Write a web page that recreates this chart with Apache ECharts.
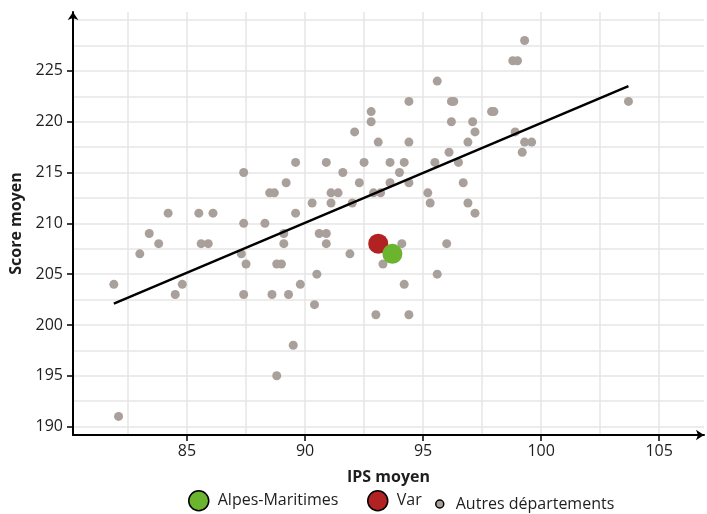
<!DOCTYPE html>
<html>
<head>
<meta charset="utf-8">
<script src="https://cdn.jsdelivr.net/npm/echarts@6/dist/echarts.min.js"></script>
<style>
  html, body { margin: 0; padding: 0; background: #fff; }
  #chart { width: 707px; height: 514px; }
</style>
</head>
<body>
<div id="chart"></div>
<script>
// autres départements : IPS moyen / score moyen
const otherIps = [
  81.9, 82.1, 83.0, 83.4, 83.8, 84.2, 84.5, 84.8, 85.5, 85.6, 85.9, 86.1,
  87.4, 87.4, 87.3, 87.5, 87.4, 88.3, 88.5, 88.7, 88.6, 88.8, 89.0, 88.8,
  89.1, 89.1, 89.2, 89.3, 89.5, 89.6, 89.6, 89.8, 90.3, 90.9, 91.1, 91.1,
  91.4, 91.6, 92.0, 92.1, 92.3, 92.5, 92.8, 92.8, 93.1, 92.9, 93.2, 93.6,
  93.6, 99.3, 98.8, 99.0, 95.6, 94.4, 96.2, 96.3, 103.7, 97.9, 98.0, 96.2,
  97.1, 97.2, 98.9, 94.4, 96.9, 99.3, 99.6, 99.2, 96.1, 94.2, 95.5, 96.5,
  94.0, 94.4, 96.7, 95.2, 95.3, 96.9, 97.2, 90.6, 90.9, 90.9, 91.9, 93.3,
  90.5, 90.4, 93.0, 94.1, 96.0, 95.6, 94.2, 94.4
];
const otherScore = [
  204, 191, 207, 209, 208, 211, 203, 204, 211, 208, 208, 211,
  215, 210, 207, 206, 203, 210, 213, 213, 203, 206, 206, 195,
  209, 208, 214, 203, 198, 211, 216, 204, 212, 216, 212, 213,
  213, 215, 212, 219, 214, 216, 221, 220, 218, 213, 213, 216,
  214, 228, 226, 226, 224, 222, 222, 222, 222, 221, 221, 220,
  220, 219, 219, 218, 218, 218, 218, 217, 217, 216, 216, 216,
  215, 214, 214, 213, 212, 212, 211, 209, 209, 208, 207, 206,
  205, 202, 201, 208, 208, 205, 204, 201
];
const alpesMaritimes = [93.7, 207];
const varDept = [93.1, 208];
// droite de tendance (début / fin)
const trendIps = [81.9, 103.7];
const trendScore = [202.1, 223.5];

const xLabels = [85, 90, 95, 100, 105];
const xGrid = [82.5, 85, 87.5, 90, 92.5, 95, 97.5, 100, 102.5, 105];
const yLabels = [190, 195, 200, 205, 210, 215, 220, 225];
const yGrid = [190, 192.5, 195, 197.5, 200, 202.5, 205, 207.5, 210, 212.5, 215, 217.5, 220, 222.5, 225, 227.5, 230];

const FONT = "Open Sans";
const xMin = 80.17, xMax = 106.9, yMin = 189.17, yMax = 230.8;

const chart = echarts.init(document.getElementById("chart"));

const legendBase = {
  orient: "horizontal",
  padding: 0,
  selectedMode: false,
  textStyle: { fontFamily: FONT, fontSize: 16, color: "#1e1e1e" },
  itemStyle: { borderColor: "#000", borderWidth: 1.5 }
};

chart.setOption({
  animation: false,
  textStyle: { fontFamily: FONT },
  grid: { left: 73, right: 3, top: 12, bottom: 79, containLabel: false },
  legend: [
    Object.assign({}, legendBase, { data: [{ name: "Alpes-Maritimes", icon: "circle" }], left: 188, top: 490, itemWidth: 28, itemHeight: 20 }),
    Object.assign({}, legendBase, { data: [{ name: "Var", icon: "circle" }], left: 367, top: 490, itemWidth: 28, itemHeight: 20 }),
    Object.assign({}, legendBase, { data: [{ name: "Autres départements", icon: "circle" }], left: 435, top: 496, itemWidth: 22, itemHeight: 8 })
  ],
  xAxis: [
    {
      type: "value", min: xMin, max: xMax,
      name: "IPS moyen", nameLocation: "middle", nameGap: 34,
      nameTextStyle: { fontFamily: FONT, fontSize: 16, fontWeight: "bold", color: "#1e1e1e" },
      axisLine: { show: true, lineStyle: { color: "#000", width: 2 }, symbol: ["none", "arrow"], symbolSize: [8, 8], symbolOffset: [0, 0] },
      axisTick: { show: true, length: 6, customValues: xLabels, lineStyle: { color: "#000", width: 1.5 } },
      axisLabel: { customValues: xLabels, margin: 8, fontFamily: FONT, fontSize: 16, color: "#1e1e1e" },
      splitLine: { show: false }
    },
    {
      type: "value", min: xMin, max: xMax, position: "top",
      axisLine: { show: false }, axisLabel: { show: false },
      axisTick: { show: false, customValues: xGrid },
      splitLine: { show: true, lineStyle: { color: "#e6e6e6", width: 1.5 } }
    }
  ],
  yAxis: [
    {
      type: "value", min: yMin, max: yMax,
      name: "Score moyen", nameLocation: "middle", nameGap: 48,
      nameTextStyle: { fontFamily: FONT, fontSize: 16, fontWeight: "bold", color: "#1e1e1e" },
      axisLine: { show: true, lineStyle: { color: "#000", width: 2 }, symbol: ["none", "arrow"], symbolSize: [8, 8], symbolOffset: [0, 0] },
      axisTick: { show: true, length: 6, customValues: yLabels, lineStyle: { color: "#000", width: 1.5 } },
      axisLabel: { customValues: yLabels, margin: 10, fontFamily: FONT, fontSize: 16, color: "#1e1e1e" },
      splitLine: { show: false }
    },
    {
      type: "value", min: yMin, max: yMax, position: "right",
      axisLine: { show: false }, axisLabel: { show: false },
      axisTick: { show: false, customValues: yGrid },
      splitLine: { show: true, lineStyle: { color: "#e6e6e6", width: 1.5 } }
    }
  ],
  series: [
    {
      name: "Autres départements", type: "scatter",
      symbolSize: 9,
      itemStyle: { color: "#aaa09b", opacity: 1 },
      data: otherIps.map((x, i) => [x, otherScore[i]]),
      z: 2
    },
    {
      name: "tendance", type: "line",
      data: trendIps.map((x, i) => [x, trendScore[i]]),
      showSymbol: false, symbol: "none",
      lineStyle: { color: "#000", width: 2.5 },
      z: 3
    },
    {
      name: "Var", type: "scatter",
      symbolSize: 20,
      itemStyle: { color: "#b22222", opacity: 1 },
      data: [varDept],
      z: 4
    },
    {
      name: "Alpes-Maritimes", type: "scatter",
      symbolSize: 20,
      itemStyle: { color: "#6ab42e", opacity: 1 },
      data: [alpesMaritimes],
      z: 5
    }
  ]
});
</script>
</body>
</html>
